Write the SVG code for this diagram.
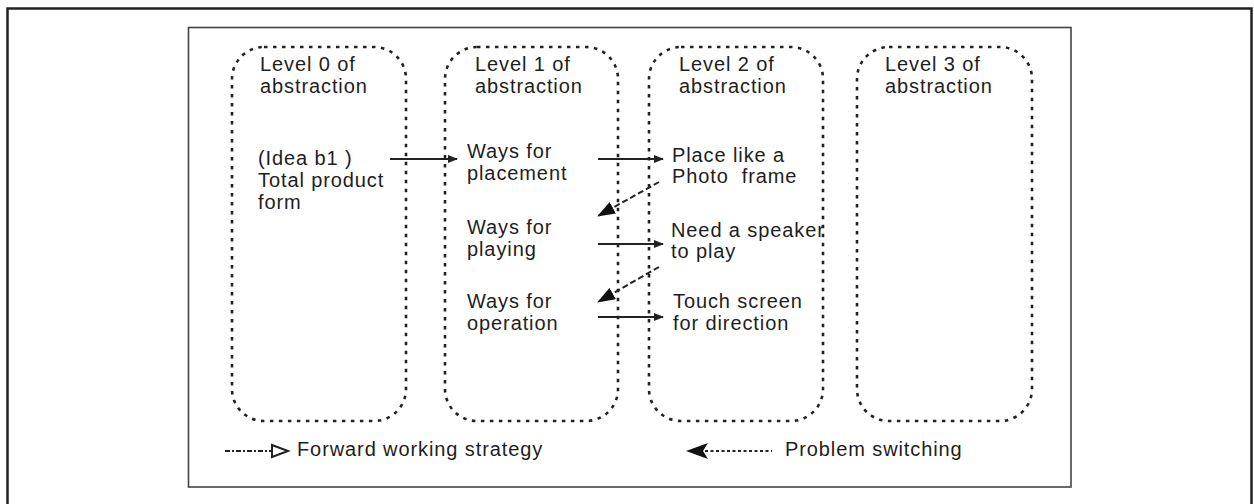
<svg xmlns="http://www.w3.org/2000/svg" width="1254" height="504" viewBox="0 0 1254 504">
<style>
.t{font-family:"Liberation Sans",Arial,sans-serif;font-size:20px;letter-spacing:0.9px;fill:#1e1e1e}
.box{fill:none;stroke:#222;stroke-width:2.6;stroke-dasharray:3.5 5.5}
.sol{stroke:#222;stroke-width:2;fill:none}
.dsh{stroke:#222;stroke-width:2;fill:none;stroke-dasharray:6 3}
</style>
<defs>
<marker id="ah" viewBox="0 0 10 8" refX="9" refY="4" markerWidth="10" markerHeight="8" markerUnits="userSpaceOnUse" orient="auto">
<path d="M0,0 L10,4 L0,8 Z" fill="#222"/>
</marker>
<marker id="ahb" viewBox="0 0 18 13" refX="17" refY="6.5" markerWidth="18" markerHeight="13" markerUnits="userSpaceOnUse" orient="auto">
<path d="M0,0 L18,6.5 L0,13 Z" fill="#111"/>
</marker>
</defs>
<rect width="1254" height="504" fill="#fff"/>
<rect x="7.5" y="8.5" width="1244" height="510" fill="none" stroke="#222" stroke-width="2.5"/>
<rect x="188.5" y="27.5" width="882.5" height="459.5" fill="none" stroke="#444" stroke-width="1.6"/>

<g id="level0">
<rect class="box" x="232" y="47" width="174" height="374" rx="32"/>
<text class="t" x="260" y="71">Level 0 of</text>
<text class="t" x="260" y="93">abstraction</text>
<text class="t" x="258" y="165">(Idea b1 )</text>
<text class="t" x="258" y="187">Total product</text>
<text class="t" x="258" y="209">form</text>
</g>
<g id="level1">
<rect class="box" x="445" y="47" width="173" height="374" rx="32"/>
<text class="t" x="475" y="71">Level 1 of</text>
<text class="t" x="475" y="93">abstraction</text>
<text class="t" x="467" y="158">Ways for</text>
<text class="t" x="467" y="180">placement</text>
<text class="t" x="467" y="234">Ways for</text>
<text class="t" x="467" y="256">playing</text>
<text class="t" x="467" y="308">Ways for</text>
<text class="t" x="467" y="330">operation</text>
</g>
<g id="level2">
<rect class="box" x="649" y="47" width="174" height="374" rx="32"/>
<text class="t" x="679" y="71">Level 2 of</text>
<text class="t" x="679" y="93">abstraction</text>
<text class="t" x="672" y="162">Place like a</text>
<text class="t" x="672" y="183" xml:space="preserve">Photo  frame</text>
<text class="t" x="671" y="237">Need a speaker</text>
<text class="t" x="671" y="258">to play</text>
<text class="t" x="673" y="308">Touch screen</text>
<text class="t" x="673" y="330">for direction</text>
</g>
<g id="level3">
<rect class="box" x="857" y="47" width="175" height="374" rx="32"/>
<text class="t" x="885" y="71">Level 3 of</text>
<text class="t" x="885" y="93">abstraction</text>
</g>

<g id="connectors">
<line class="sol" x1="390" y1="159" x2="457" y2="159" marker-end="url(#ah)"/>
<line class="sol" x1="598" y1="159" x2="663" y2="159" marker-end="url(#ah)"/>
<line class="sol" x1="598" y1="244" x2="663" y2="244" stroke-width="1.5" marker-end="url(#ah)"/>
<line class="sol" x1="598" y1="317" x2="663" y2="317" marker-end="url(#ah)"/>
<line class="dsh" x1="659" y1="182" x2="598" y2="216" marker-end="url(#ahb)"/>
<line class="dsh" x1="659" y1="267" x2="598" y2="302" marker-end="url(#ahb)"/>
</g>

<g id="legend">
<line x1="225" y1="451" x2="272" y2="451" stroke="#222" stroke-width="2" stroke-dasharray="5 2 2 2"/>
<path d="M272,445 L288,451 L272,457 Z" fill="#fff" stroke="#222" stroke-width="2"/>
<text class="t" x="297" y="456">Forward working strategy</text>
<path d="M686,451 L708,443 L703,451 L708,459 Z" fill="#111"/>
<line x1="705" y1="451" x2="772" y2="451" stroke="#222" stroke-width="2" stroke-dasharray="3 2.5"/>
<text class="t" x="785" y="456">Problem switching</text>
</g>
</svg>
